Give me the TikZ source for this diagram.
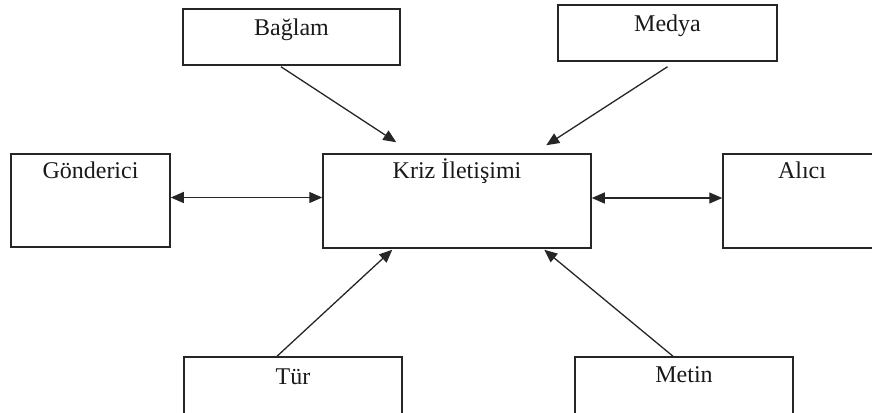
\documentclass[tikz,border=0pt]{standalone}
\usepackage{fontspec}
\setmainfont{Liberation Serif}
\usetikzlibrary{arrows.meta}
\begin{document}
\begin{tikzpicture}[x=1pt,y=-1pt,
  box/.style={draw=black!85,line width=1.5pt,rectangle,inner sep=0pt},
  lbl/.style={anchor=base,inner sep=0pt,font=\fontsize{24}{28}\selectfont,text=black!90},
  arr/.style={draw=black!85,line width=1.3pt,-{Triangle[length=13pt,width=11pt]}},
  darr/.style={draw=black!85,line width=1.3pt,{Triangle[length=13pt,width=11pt]}-{Triangle[length=13pt,width=11pt]}}]
\useasboundingbox (0,0) rectangle (872,412);
\clip (0,0) rectangle (872,412);
% boxes
\node[box,minimum width=217pt,minimum height=56pt] (b) at (291.5,37) {};
\node[box,minimum width=219pt,minimum height=56pt] (m) at (667.5,33) {};
\node[box,minimum width=159pt,minimum height=93pt] (g) at (90.5,200.5) {};
\node[box,minimum width=268pt,minimum height=94pt] (k) at (457,201) {};
\node[box,minimum width=158pt,minimum height=94pt] (a) at (802,201) {};
\node[box,minimum width=218pt,minimum height=94pt] (t) at (293,404) {};
\node[box,minimum width=218pt,minimum height=94pt] (mt) at (684,404) {};
% labels
\node[lbl] (bt) at ([yshift=-27pt]b.north) {Bağlam};
\node[lbl] (mtx) at ([yshift=-27pt]m.north) {Medya};
\node[lbl] (gt) at ([yshift=-25pt]g.north) {Gönderici};
\node[lbl] (kt) at ([yshift=-25pt]k.north) {Kriz İletişimi};
\node[lbl] (at) at ([yshift=-25pt]a.north) {Alıcı};
\node[lbl] (tt) at ([yshift=-28pt]t.north) {Tür};
\node[lbl] (mtt) at ([yshift=-26pt]mt.north) {Metin};
% connectors
\draw[arr] ([xshift=-10.5pt,yshift=-1pt]b.south) -- ([xshift=74pt,yshift=11pt]k.north west);
\draw[arr] ([yshift=-5pt]m.south) -- ([xshift=224pt,yshift=8pt]k.north west);
\draw[darr] ([yshift=3pt]g.east) -- ([yshift=3pt]g.east -| k.west);
\draw[darr] ([yshift=3pt]k.east) -- ([yshift=3pt]k.east -| a.west);
\draw[arr] ([xshift=-16pt]t.north) -- ([xshift=70pt,yshift=-1pt]k.south west);
\draw[arr] ([xshift=-11pt]mt.north) -- ([xshift=222pt,yshift=-1pt]k.south west);
\end{tikzpicture}
\end{document}
